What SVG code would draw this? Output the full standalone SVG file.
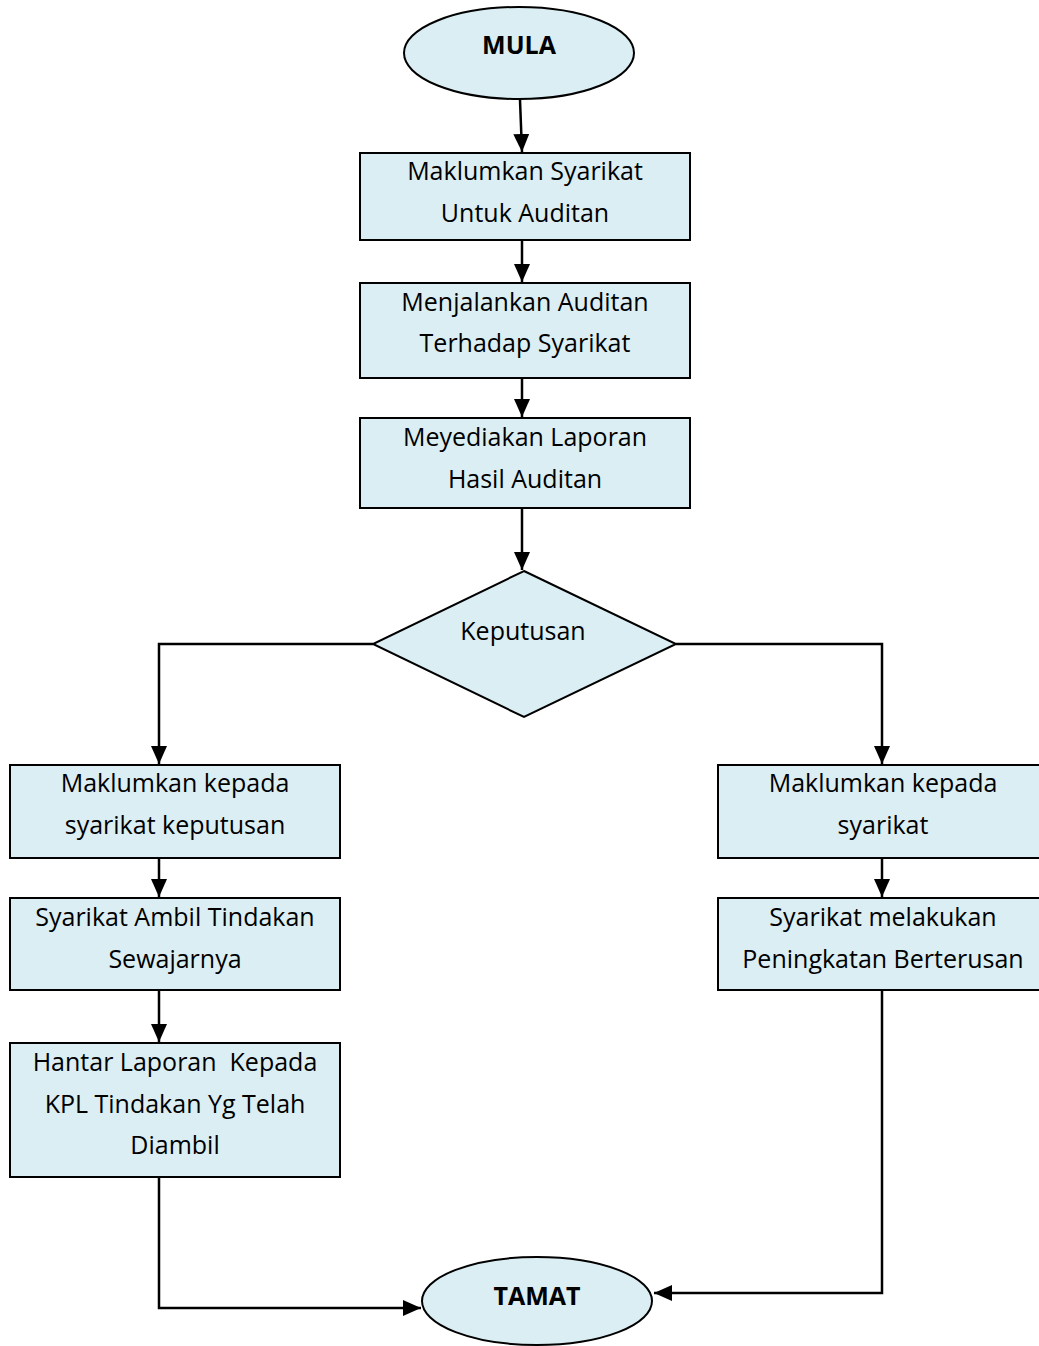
<svg xmlns="http://www.w3.org/2000/svg" width="1039" height="1346" viewBox="0 0 1039 1346">
<defs>
<style>
.n{fill:#DBEEF3;stroke:#000;stroke-width:2}
.t{font-family:"Open Sans","Liberation Sans",Arial,sans-serif;font-size:25px;fill:#000;text-anchor:middle;dominant-baseline:middle}
.b{font-weight:bold;font-size:25px}
.c{fill:none;stroke:#000;stroke-width:2.5}
</style>
<marker id="ah" markerUnits="userSpaceOnUse" markerWidth="18" markerHeight="18" viewBox="0 0 18 18" refX="18" refY="9" orient="auto">
<path d="M0,1 L18,9 L0,17 Z" fill="#000"/>
</marker>
</defs>
<rect width="1039" height="1346" fill="#fff"/>
<g id="connectors">
<line class="c" x1="520" y1="100" x2="522" y2="152" marker-end="url(#ah)"/>
<line class="c" x1="522" y1="240" x2="522" y2="282" marker-end="url(#ah)"/>
<line class="c" x1="522" y1="378" x2="522" y2="417" marker-end="url(#ah)"/>
<line class="c" x1="522" y1="508" x2="522" y2="570" marker-end="url(#ah)"/>
<polyline class="c" points="373,644 159,644 159,764" marker-end="url(#ah)"/>
<polyline class="c" points="676,644 882,644 882,764" marker-end="url(#ah)"/>
<line class="c" x1="159" y1="858" x2="159" y2="897" marker-end="url(#ah)"/>
<line class="c" x1="159" y1="990" x2="159" y2="1042" marker-end="url(#ah)"/>
<line class="c" x1="882" y1="858" x2="882" y2="897" marker-end="url(#ah)"/>
<polyline class="c" points="159,1177 159,1308 421,1308" marker-end="url(#ah)"/>
<polyline class="c" points="882,990 882,1293 654,1293" marker-end="url(#ah)"/>
</g>
<g id="mula">
<ellipse class="n" cx="519" cy="53" rx="115" ry="46"/>
<text class="t b" x="519" y="47">MULA</text>
</g>
<g id="box1">
<rect class="n" x="360" y="153" width="330" height="87"/>
<text class="t" x="525" y="173">Maklumkan Syarikat</text>
<text class="t" x="525" y="215">Untuk Auditan</text>
</g>
<g id="box2">
<rect class="n" x="360" y="283" width="330" height="95"/>
<text class="t" x="525" y="304">Menjalankan Auditan</text>
<text class="t" x="525" y="345">Terhadap Syarikat</text>
</g>
<g id="box3">
<rect class="n" x="360" y="418" width="330" height="90"/>
<text class="t" x="525" y="439">Meyediakan Laporan</text>
<text class="t" x="525" y="481">Hasil Auditan</text>
</g>
<g id="decision">
<polygon class="n" points="524,571 676,644 524,717 373,644"/>
<text class="t" x="523" y="633">Keputusan</text>
</g>
<g id="left1">
<rect class="n" x="10" y="765" width="330" height="93"/>
<text class="t" x="175" y="785">Maklumkan kepada</text>
<text class="t" x="175" y="827">syarikat keputusan</text>
</g>
<g id="left2">
<rect class="n" x="10" y="898" width="330" height="92"/>
<text class="t" x="175" y="919">Syarikat Ambil Tindakan</text>
<text class="t" x="175" y="961">Sewajarnya</text>
</g>
<g id="left3">
<rect class="n" x="10" y="1043" width="330" height="134"/>
<text class="t" x="175" y="1064" xml:space="preserve">Hantar Laporan  Kepada</text>
<text class="t" x="175" y="1106">KPL Tindakan Yg Telah</text>
<text class="t" x="175" y="1147">Diambil</text>
</g>
<g id="right1">
<rect class="n" x="718" y="765" width="330" height="93"/>
<text class="t" x="883" y="785">Maklumkan kepada</text>
<text class="t" x="883" y="827">syarikat</text>
</g>
<g id="right2">
<rect class="n" x="718" y="898" width="330" height="92"/>
<text class="t" x="883" y="919">Syarikat melakukan</text>
<text class="t" x="883" y="961">Peningkatan Berterusan</text>
</g>
<g id="tamat">
<ellipse class="n" cx="537" cy="1301" rx="115" ry="44"/>
<text class="t b" x="537" y="1298">TAMAT</text>
</g>
</svg>
